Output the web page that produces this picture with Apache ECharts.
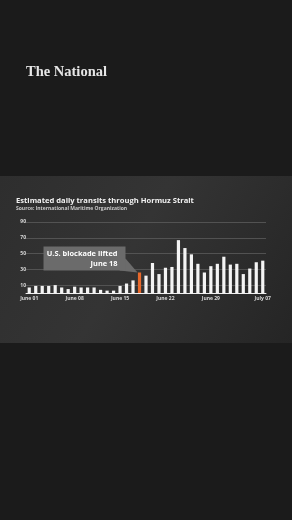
<!DOCTYPE html>
<html>
<head>
<meta charset="utf-8">
<script src="https://cdn.jsdelivr.net/npm/echarts@6/dist/echarts.min.js"></script>
<style>
  html, body { margin: 0; padding: 0; background: #1b1b1b; }
  #chart { width: 292px; height: 520px; }
</style>
</head>
<body>
<div id="chart"></div>
<script>
// daily transits, June 01 .. July 07
const days = [
  'June 01', 'June 02', 'June 03', 'June 04', 'June 05', 'June 06', 'June 07',
  'June 08', 'June 09', 'June 10', 'June 11', 'June 12', 'June 13', 'June 14',
  'June 15', 'June 16', 'June 17', 'June 18', 'June 19', 'June 20', 'June 21',
  'June 22', 'June 23', 'June 24', 'June 25', 'June 26', 'June 27', 'June 28',
  'June 29', 'June 30', 'July 01', 'July 02', 'July 03', 'July 04', 'July 05',
  'July 06', 'July 07'
];
const transits = [
  7, 9, 9, 9, 10, 7, 5, 8, 7, 7, 7, 4, 3, 3, 9, 12, 16,
  26, 22, 38, 24, 32, 33, 67, 57, 49, 37, 26, 34, 37, 46, 36, 37, 24, 31, 39, 41
];
const shownTicks = ['June 01', 'June 08', 'June 15', 'June 22', 'June 29', 'July 07'];
const highlightDay = 'June 18';
const noteLines = ['U.S. blockade lifted', 'June 18'];

const chart = echarts.init(document.getElementById('chart'));

const option = {
    backgroundColor: '#1b1b1b',
    animation: false,
    textStyle: { fontFamily: 'Open Sans' },
    title: [{
        text: 'Estimated daily transits through Hormuz Strait',
        subtext: 'Source: International Maritime Organization',
        left: 16,
        top: 196.5,
        padding: 0,
        itemGap: 2,
        textStyle: { color: '#f2f2f2', fontSize: 7.6, fontWeight: 'bold', fontFamily: 'Open Sans' },
        subtextStyle: { color: '#c8c8c8', fontSize: 5, fontWeight: 'bold', fontFamily: 'Open Sans' }
    }],
    graphic: [
        {
            type: 'rect',
            z: -10,
            shape: { x: 0, y: 176, width: 292, height: 167 },
            style: {
                fill: new echarts.graphic.LinearGradient(0, 0, 1, 1, [
                    { offset: 0, color: '#2e2e2e' },
                    { offset: 0.45, color: '#343434' },
                    { offset: 1, color: '#252525' }
                ])
            }
        },
        {
            type: 'text',
            left: 26,
            top: 64.5,
            style: {
                text: 'The National',
                fill: '#e6e6e6',
                font: 'bold 14.5px "Liberation Serif"'
            }
        }
    ],
    grid: { left: 26, right: 26, top: 222, bottom: 227 },
    xAxis: {
        type: 'category',
        data: days,
        axisLine: { lineStyle: { color: '#f0f0f0', width: 1 } },
        axisTick: { show: false },
        axisLabel: {
            interval: 0,
            color: '#d8d8d8',
            fontSize: 5,
            fontWeight: 'bold',
            margin: 3,
            formatter: v => shownTicks.indexOf(v) >= 0 ? v : ''
        }
    },
    yAxis: {
        type: 'value',
        min: 0,
        max: 90,
        interval: 10,
        axisLine: { show: false },
        axisTick: { show: false },
        splitLine: { lineStyle: { color: ['transparent', '#5c5c5c'], width: 0.8 } },
        axisLabel: {
            color: '#d8d8d8',
            fontSize: 5,
            fontWeight: 'bold',
            margin: 0,
            align: 'right',
            formatter: v => (v % 20 === 10 ? String(v) : '')
        }
    },
    series: [{
        type: 'bar',
        barWidth: 3.2,
        data: transits.map((v, i) => ({
            value: v,
            itemStyle: { color: days[i] === highlightDay ? '#e8692c' : '#f4f4f4' }
        }))
    }]
};

chart.setOption(option);

// callout box anchored to the highlighted bar
const tip = chart.convertToPixel({ seriesIndex: 0 }, [highlightDay, transits[days.indexOf(highlightDay)]]);
const bx = tip[0] - 96, by = tip[1] - 26, bw = 82, bh = 24;
chart.setOption({
    graphic: option.graphic.concat([
        {
            type: 'polygon',
            z: 50,
            shape: { points: [[bx + bw, by + bh - 12], [tip[0] - 2, tip[1]], [bx + bw - 6, by + bh]] },
            style: { fill: '#6b6b6b' }
        },
        {
            type: 'rect',
            z: 50,
            shape: { x: bx, y: by, width: bw, height: bh },
            style: { fill: '#6b6b6b' }
        },
        {
            type: 'text',
            z: 51,
            x: bx + bw - 8,
            y: by + 3,
            style: {
                text: noteLines.join('\n'),
                align: 'right',
                verticalAlign: 'top',
                fill: '#ffffff',
                font: 'bold 7.4px "Open Sans"',
                lineHeight: 9.5
            }
        }
    ])
});
</script>
</body>
</html>
